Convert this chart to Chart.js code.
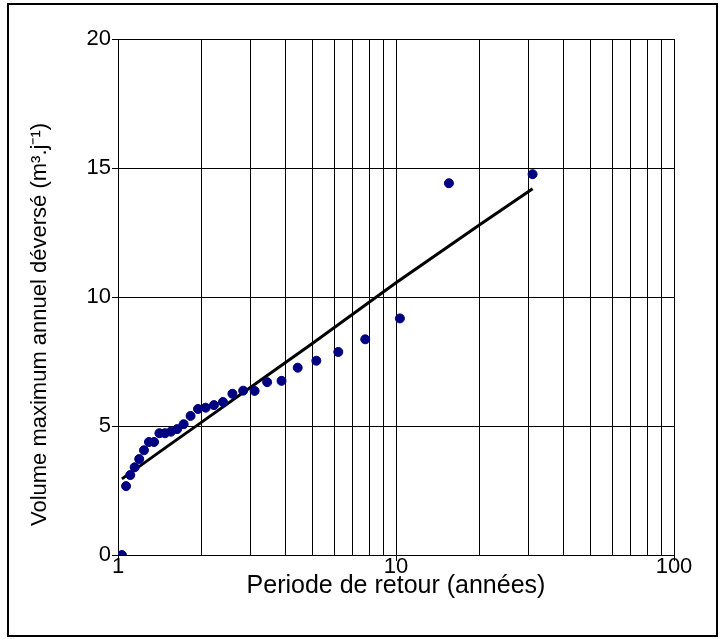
<!DOCTYPE html>
<html>
<head>
<meta charset="utf-8">
<script src="https://cdn.jsdelivr.net/npm/chart.js@4"></script>
<style>
  html, body { margin: 0; padding: 0; background: #fff; }
  #wrap { width: 720px; height: 639px; }
</style>
</head>
<body>
<div id="wrap"><canvas id="c" width="720" height="639"></canvas></div>
<script>
const returnPeriods = [31, 15.5, 10.33, 7.75, 6.2, 5.17, 4.43, 3.875, 3.44, 3.1,
  2.82, 2.58, 2.385, 2.214, 2.067, 1.94, 1.824, 1.722, 1.632, 1.55,
  1.476, 1.409, 1.348, 1.292, 1.24, 1.192, 1.148, 1.107, 1.069, 1.033];
const volumes = [14.76, 14.41, 9.17, 8.36, 7.87, 7.53, 7.26, 6.75, 6.70, 6.36,
  6.37, 6.25, 5.93, 5.81, 5.71, 5.66, 5.39, 5.07, 4.88, 4.78,
  4.72, 4.72, 4.38, 4.38, 4.06, 3.72, 3.40, 3.10, 2.67, 0];

// Fitted curve
const fitPeriods = [1.033, 1.5, 2, 3, 5, 10, 20, 31];
const fitVolumes = [2.95, 4.2, 5.15, 6.5, 8.2, 10.55, 12.8, 14.2];

const xTickLabels = [1, 10, 100];
const yTickLabels = [0, 5, 10, 15, 20];

const FONT = "'Liberation Sans', Arial, sans-serif";

const frame = {
  id: 'frame',
  beforeDraw(chart) {
    const ctx = chart.ctx;
    ctx.save();
    ctx.fillStyle = '#fff';
    ctx.fillRect(0, 0, chart.width, chart.height);
    ctx.strokeStyle = '#000';
    ctx.lineWidth = 2;
    ctx.strokeRect(8, 4, 709, 632);
    ctx.restore();
  }
};

// trailing spaces push the rotated title a bit lower, like the original
const yTitle = 'Volume maximum annuel déversé (m³.j⁻¹)' + '\u00a0'.repeat(9);

new Chart(document.getElementById('c').getContext('2d'), {
  type: 'scatter',
  data: {
    datasets: [
      {
        label: 'fit',
        type: 'line',
        data: fitPeriods.map((t, i) => ({ x: t, y: fitVolumes[i] })),
        borderColor: '#000',
        borderWidth: 3,
        pointRadius: 0,
        fill: false,
        tension: 0,
        order: 2,
      },
      {
        label: 'obs',
        data: returnPeriods.map((t, i) => ({ x: t, y: volumes[i] })),
        backgroundColor: '#000080',
        borderColor: '#000080',
        pointRadius: 4.5,
        order: 1,
      },
    ],
  },
  options: {
    responsive: false,
    animation: false,
    layout: { padding: { left: 0, top: 39, right: 46, bottom: 0 } },
    plugins: {
      legend: { display: false },
      tooltip: { enabled: false },
    },
    scales: {
      x: {
        type: 'logarithmic',
        min: 1,
        max: 100,
        afterFit(s) { s.height = 84; },
        afterBuildTicks(s) {
          const t = [];
          for (let d = 1; d < 100; d *= 10) {
            for (let k = 1; k < 10; k++) t.push({ value: k * d });
          }
          t.push({ value: 100 });
          s.ticks = t;
        },
        grid: {
          color: '#000',
          lineWidth: 1,
          drawTicks: true,
          tickLength: 6,
          tickColor: (c) => xTickLabels.includes(c.tick && c.tick.value) ? '#000' : 'rgba(0,0,0,0)',
        },
        border: { color: '#000', width: 1 },
        ticks: {
          autoSkip: false,
          maxRotation: 0,
          color: '#000',
          font: { family: FONT, size: 22 },
          padding: -7,
          callback: (v) => xTickLabels.includes(v) ? String(v) : '',
        },
        title: {
          display: true,
          text: 'Periode de retour (années)',
          color: '#000',
          font: { family: FONT, size: 25 },
          padding: { top: 0, bottom: 38 },
        },
      },
      y: {
        min: 0,
        max: 20,
        afterFit(s) { s.width = 118; },
        afterBuildTicks(s) { s.ticks = yTickLabels.map((v) => ({ value: v })); },
        grid: { color: '#000', lineWidth: 1, tickLength: 6 },
        border: { color: '#000', width: 1 },
        ticks: {
          color: '#000',
          font: { family: FONT, size: 22 },
          padding: 1,
        },
        title: {
          display: true,
          text: yTitle,
          color: '#000',
          font: { family: FONT, size: 22 },
          padding: { top: 27, bottom: 0 },
        },
      },
    },
  },
  plugins: [frame],
});
</script>
</body>
</html>
